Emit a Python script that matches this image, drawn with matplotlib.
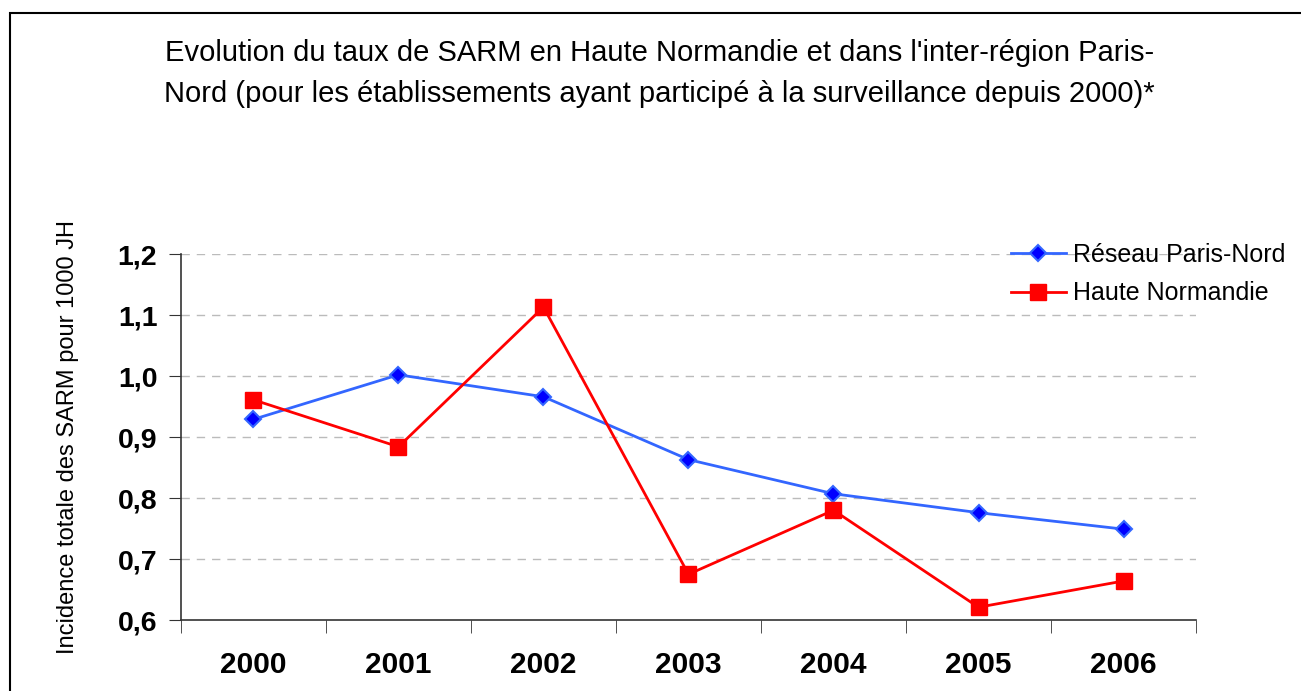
import matplotlib
matplotlib.use('Agg')
import matplotlib.pyplot as plt
from matplotlib.patches import Rectangle

# data
years = ['2000', '2001', '2002', '2003', '2004', '2005', '2006']
paris_nord = [0.929, 1.002, 0.966, 0.863, 0.807, 0.776, 0.749]
haute_normandie = [0.961, 0.884, 1.113, 0.675, 0.780, 0.621, 0.664]
y_ticks = [0.6, 0.7, 0.8, 0.9, 1.0, 1.1, 1.2]
y_tick_labels = ['0,6', '0,7', '0,8', '0,9', '1,0', '1,1', '1,2']

plt.rcParams['font.family'] = ['Liberation Sans', 'DejaVu Sans']

fig = plt.figure(figsize=(13.01, 6.91), dpi=100)
ax = fig.add_axes([0.1391, 0.1027, 0.7802, 0.5297])

# outer frame of the chart area
fig.patches.append(Rectangle((10 / 1301, -0.05), 1.1, 1 - 13 / 691 + 0.05,
                             transform=fig.transFigure, fill=False,
                             edgecolor='black', linewidth=1.5))

x = list(range(len(years)))
ax.plot(x, paris_nord, color='#3366FF', linewidth=2, marker='D', markersize=8,
        markerfacecolor='#0000FF', markeredgecolor='#3366FF', markeredgewidth=1.5,
        label='Réseau Paris-Nord')
ax.plot(x, haute_normandie, color='#FF0000', linewidth=2, marker='s', markersize=12,
        markerfacecolor='#FF0000', markeredgecolor='#FF0000',
        label='Haute Normandie')

ax.set_xlim(-0.5, len(years) - 0.5)
ax.set_ylim(0.6, 1.2)

ax.set_yticks(y_ticks)
ax.set_yticklabels(y_tick_labels, fontsize=20.5, fontweight='bold')
ax.set_xticks(x)
ax.set_xticklabels(years, fontsize=21.5, fontweight='bold')
ax.tick_params(axis='x', length=0, pad=22)
ax.set_xticks([i - 0.5 for i in range(len(years) + 1)], minor=True)
ax.tick_params(axis='x', which='minor', length=9, direction='out', color='#333333')
ax.tick_params(axis='y', length=9, direction='out', color='#333333', pad=8)

for v in y_ticks[1:]:
    ax.axhline(v, color='#BBBBBB', linestyle=(0, (6, 5)), linewidth=1, zorder=0)

for side in ['top', 'right']:
    ax.spines[side].set_visible(False)
for side in ['left', 'bottom']:
    ax.spines[side].set_color('#333333')
    ax.spines[side].set_linewidth(1.2)

ax.set_ylabel('Incidence totale des SARM pour 1000 JH', fontsize=17, labelpad=28)

fig.text(0.507, 1 - 39 / 691,
         "Evolution du taux de SARM en Haute Normandie et dans l'inter-région Paris-\n"
         "Nord (pour les établissements ayant participé à la surveillance depuis 2000)*",
         ha='center', va='top', fontsize=21, linespacing=1.6)

ax.legend(loc='upper left', bbox_to_anchor=(988 / 1301, 1 - 220 / 691),
          bbox_transform=fig.transFigure, frameon=False, fontsize=18,
          handlelength=2.2, handletextpad=0.3, labelspacing=0.6)

fig.savefig('out.png', dpi=100)
